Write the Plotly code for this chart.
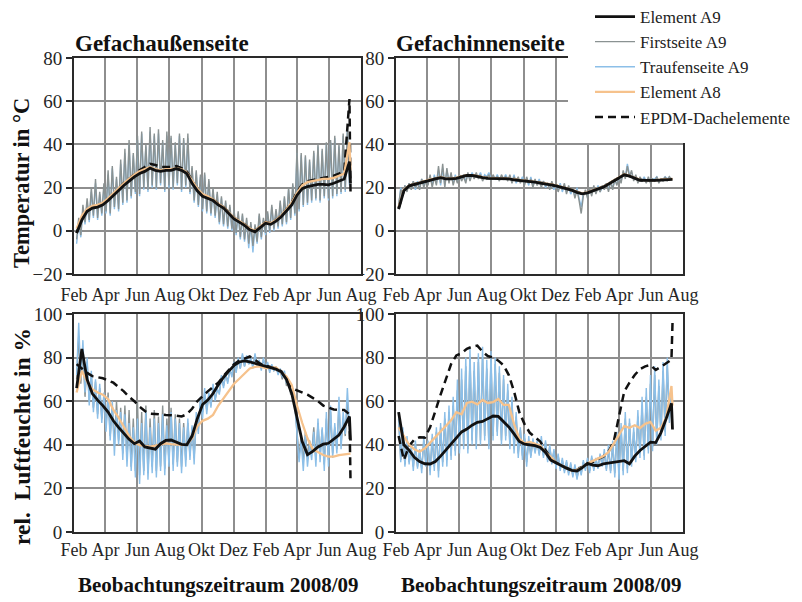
import plotly.graph_objects as go
import pandas as pd

# The page body adds an 8 px margin, so the figure is 8 px smaller than the window
# and every reference pixel position is shifted by OFF.
W, H = 794, 594
OFF = 8

# ---------------- x positions ----------------
smooth_dates = list(pd.date_range('2008-02-06', periods=53, freq='10D')) + [pd.Timestamp('2009-07-12')]
noise_dates = pd.date_range('2008-02-06', periods=131, freq='4D')

tick_vals = ['2008-02-01', '2008-04-01', '2008-06-01', '2008-08-01', '2008-10-01',
             '2008-12-01', '2009-02-01', '2009-04-01', '2009-06-01', '2009-08-01']
tick_text = ['Feb', 'Apr', 'Jun', 'Aug', 'Okt', 'Dez', 'Feb', 'Apr', 'Jun', 'Aug']

# ---------------- Temperatur, Gefachaußenseite ----------------
t_out_a9 = [-1, 5, 9, 10.5, 11, 12, 14, 16.5, 19, 21, 23, 25, 26.5, 27.5, 29, 28, 27.5, 28, 28, 28.8,
            28, 26.5, 22, 18.5, 16, 15, 14, 12, 10.5, 8, 5.5, 4, 2.5, 0.5, -0.5, 1.5, 3.5, 3, 4.5, 6.5,
            9.5, 12, 16.5, 19.5, 20.5, 21, 21.5, 21.5, 21.3, 22, 23, 24, 32, 22]
t_out_a8 = [1, 7, 10, 11.5, 12, 13, 15, 17.5, 20, 22, 24, 26, 27.5, 28.5, 29.5, 28.5, 28, 28.5, 28.5, 29,
            28.5, 27, 23, 19.5, 17, 16, 14.5, 12.5, 11, 8.5, 6, 4.5, 3, 1, 0, 2, 4, 3.5, 5, 7,
            10, 13, 17.5, 21, 22.5, 23, 23.5, 24, 24, 24.5, 25.5, 26.5, 41, 28]
t_out_epdm = [-1, 5.5, 9.5, 11, 11.5, 12.5, 14.5, 17, 19.5, 22, 24, 26, 28, 29.5, 31, 30.5, 29.5, 29.5, 29.5, 30,
              29, 27.5, 23, 19, 16.5, 15.5, 14.5, 12.5, 11, 8.5, 6, 4.5, 3, 1, 0, 2, 4, 3.5, 5, 7,
              10, 13, 18, 21.5, 23, 23.5, 24, 24.5, 25, 25.5, 26.5, 27.5, 61, 18]
t_out_first = [-4, 6, -2, 12, 4, 15,
               5, 20, 7, 24, 6, 18, 8, 22,
               9, 28, 8, 30, 11, 25, 10, 33,
               13, 38, 14, 42, 16, 36, 18,
               44, 17, 46, 20, 40, 19, 48, 21,
               45, 20, 47, 22, 42, 19, 46, 21,
               44, 20, 41, 22, 45, 19, 43,
               21, 45, 18, 30, 14, 28, 12, 26,
               10, 27, 9, 24, 8, 20, 7, 18,
               4, 16, 3, 14, 2, 12, 1,
               10, -1, 9, -3, 8, -4, 6, -6,
               4, -7, 3, -5, 8, -3, 6, -1,
               9, 0, 12, 1, 10, 2, 14,
               3, 16, 4, 20, 6, 22, 8,
               38, 10, 36, 12, 35, 13, 33, 14,
               37, 15, 40, 14, 38, 16, 41,
               15, 42, 16, 44, 17, 40, 18, 45,
               19, 46, 22]
t_out_trauf = [-6, 4, -3, 10, 3, 13,
               4, 18, 6, 22, 5, 17, 7, 20,
               8, 26, 7, 29, 10, 24, 9, 31,
               12, 36, 13, 40, 15, 35, 17,
               42, 16, 45, 19, 39, 18, 46, 20,
               44, 19, 45, 21, 41, 18, 44, 20,
               43, 19, 40, 21, 44, 18, 42,
               20, 43, 17, 29, 13, 27, 11, 25,
               9, 26, 8, 23, 7, 19, 6, 17,
               3, 15, 2, 13, 1, 11, 0,
               9, -2, 8, -4, 7, -5, 5, -8,
               3, -10, 2, -6, 7, -4, 5, -2,
               8, -1, 11, 0, 9, 1, 13,
               2, 15, 3, 19, 5, 21, 7,
               36, 9, 35, 11, 34, 12, 32, 13,
               36, 14, 39, 13, 37, 15, 40,
               14, 41, 15, 43, 16, 39, 17, 44,
               18, 47, 21]

# ---------------- Temperatur, Gefachinnenseite ----------------
t_in_a9 = [10, 18.5, 20.8, 21.5, 22, 22.8, 23.5, 24, 24.6, 24, 24, 24.3, 25, 25.6, 25.6, 25, 24.6, 24.3, 24.3, 24.3,
           24.3, 24, 23.6, 23.4, 23, 22.8, 22.5, 22.1, 21.8, 21.3, 20.8, 20.2, 19.5, 18.8, 17.8, 17.1, 17.6, 18.6, 19.4, 20.2,
           21.6, 23.3, 24.7, 25.9, 25.3, 24.2, 23.4, 23.3, 23.2, 23.3, 23.5, 23.6, 24, 23.8]
t_in_a8 = [11, 19, 21, 21.8, 22.3, 23, 23.8, 24.2, 24.8, 24.3, 24.2, 24.6, 25.2, 25.8, 25.8, 25.2, 24.8, 24.5, 24.5, 24.5,
           24.5, 24.2, 23.8, 23.6, 23.2, 23, 22.7, 22.3, 22, 21.5, 21, 20.4, 19.7, 19, 18, 17.3, 17.8, 18.8, 19.6, 20.4,
           21.8, 23.5, 25, 26.2, 25.5, 24.4, 23.6, 23.5, 23.4, 23.5, 23.7, 23.8, 24.2, 24]
t_in_epdm = [10.5, 18.7, 20.9, 21.6, 22.1, 22.9, 23.6, 24.1, 24.7, 24.1, 24.1, 24.4, 25.1, 25.7, 25.7, 25.1, 24.7, 24.4, 24.4, 24.4,
             24.4, 24.1, 23.7, 23.5, 23.1, 22.9, 22.6, 22.2, 21.9, 21.4, 20.9, 20.3, 19.6, 18.9, 17.9, 17.2, 17.7, 18.7, 19.5, 20.3,
             21.7, 23.4, 24.8, 26, 25.4, 24.3, 23.5, 23.4, 23.3, 23.4, 23.6, 23.7, 24.1, 23.8]
t_in_first = [12, 19, 17, 21, 18, 22,
              19, 23, 20, 22, 19, 24, 20, 23,
              21, 26, 20, 25, 21, 30, 22, 31,
              20, 29, 22, 27, 21, 25, 22,
              26, 23, 25, 22, 27, 23, 26, 24,
              27, 24, 26, 23, 25, 24, 26, 23,
              26, 24, 25, 23, 26, 24, 25,
              23, 26, 22, 25, 23, 25, 22, 24,
              21, 25, 22, 24, 20, 24, 21, 23,
              20, 23, 21, 22, 19, 23, 20,
              22, 18, 21, 19, 22, 17, 21, 18,
              20, 15, 19, 14, 8, 16, 19, 15,
              20, 16, 21, 17, 20, 18, 21,
              19, 22, 18, 23, 19, 24, 21,
              25, 22, 28, 24, 30, 25, 28, 23,
              26, 22, 25, 23, 24, 22, 25,
              22, 24, 23, 25, 22, 24, 23, 25,
              23, 25, 24]
t_in_trauf = [11, 20, 16, 21, 19, 22,
              20, 23, 19, 23, 20, 24, 21, 23,
              22, 25, 21, 26, 22, 28, 21, 29,
              21, 28, 23, 26, 22, 26, 23,
              25, 24, 26, 23, 26, 24, 27, 25,
              26, 25, 27, 24, 26, 25, 27, 24,
              25, 24, 26, 24, 25, 24, 26,
              24, 25, 23, 26, 22, 24, 23, 25,
              22, 24, 21, 25, 21, 23, 22, 24,
              21, 23, 20, 22, 20, 22, 19,
              21, 19, 22, 18, 21, 18, 20, 17,
              19, 16, 20, 15, 11, 17, 18, 16,
              19, 17, 20, 18, 21, 18, 20,
              20, 22, 19, 23, 20, 23, 22,
              24, 23, 27, 25, 31, 26, 27, 24,
              25, 23, 24, 23, 25, 23, 24,
              23, 24, 24, 25, 23, 24, 24, 25,
              24, 25, 24]

# ---------------- rel. Luftfeuchte, Gefachaußenseite ----------------
h_out_a9 = [66, 84, 70, 63.5, 60.5, 58, 55, 51, 48, 45, 42.5, 40.5, 41.7, 39, 38.5, 38, 40.5, 42, 42.2, 41.3,
            40.2, 40, 44, 52, 58.5, 60.5, 63.5, 67.5, 71, 73.8, 76.4, 78, 78.5, 78, 77.4, 76.8, 76, 75.5, 74.7, 73.5,
            70, 63.5, 52, 41.5, 35.5, 37, 39, 40.3, 40.7, 42.5, 44.5, 48.3, 53, 42]
h_out_a8 = [64, 74, 69, 65.5, 64, 63, 61, 56, 52.5, 48, 44, 41, 39.9, 39.5, 39.2, 39.6, 40, 40.7, 40.3, 40,
            40, 40, 43, 48.5, 51, 52, 53.7, 58, 61.5, 64.8, 68, 70.3, 72.8, 75, 75.7, 76, 75.2, 75.2, 75.5, 73.3,
            71.3, 67.5, 58, 50, 43, 38, 36.5, 35.3, 34.6, 34.6, 35.3, 35.6, 36, 36]
h_out_epdm = [77, 75, 73, 71.5, 71, 70.5, 69.5, 68.5, 66.5, 64.5, 62, 60, 57.5, 55.5, 54.3, 54, 53.7, 53.7, 53.6, 53.2,
              53, 54, 56.5, 60, 62.5, 64.5, 66.5, 68.5, 71.5, 74.3, 77, 78.6, 79.5, 80.5, 79, 77.2, 76.3, 75.8, 75, 73.8,
              70, 66, 65, 64, 63, 61.5, 60, 58, 57, 56.2, 56, 56, 54, 23]
h_out_first = [70, 90, 68, 84, 62, 78,
               60, 72, 57, 69, 54, 66, 52, 62,
               48, 64, 44, 58, 40, 60, 42, 57,
               36, 58, 33, 56, 30, 52, 28,
               60, 26, 55, 28, 58, 27, 52, 30,
               56, 28, 53, 30, 58, 29, 52, 32,
               57, 31, 54, 32, 52, 30, 50,
               33, 50, 35, 48, 34, 52, 47, 60,
               55, 64, 56, 63, 58, 66, 61, 65,
               64, 71, 67, 72, 69, 74, 72,
               77, 74, 79, 75, 81, 76, 80, 77,
               79, 76, 81, 76, 78, 75, 79, 76,
               77, 74, 76, 74, 75, 73, 74,
               70, 73, 67, 69, 63, 65, 57,
               47, 35, 44, 32, 46, 34, 42, 36,
               48, 33, 50, 35, 47, 31, 52,
               33, 55, 36, 48, 38, 58, 40, 52,
               44, 60, 46]
h_out_trauf = [72, 96, 70, 88, 64, 80,
               58, 74, 55, 70, 52, 68, 50, 64,
               46, 62, 42, 60, 35, 56, 40, 55,
               33, 54, 30, 50, 28, 48, 25,
               52, 22, 50, 26, 55, 24, 48, 27,
               52, 25, 50, 28, 54, 26, 49, 30,
               55, 28, 52, 30, 50, 27, 48,
               30, 52, 33, 49, 31, 55, 45, 62,
               52, 66, 54, 64, 57, 68, 60, 66,
               63, 72, 66, 73, 68, 75, 71,
               78, 73, 80, 75, 82, 76, 81, 77,
               80, 75, 82, 76, 79, 74, 80, 75,
               78, 73, 77, 74, 76, 72, 75,
               71, 74, 68, 70, 64, 66, 58,
               45, 32, 42, 28, 44, 30, 40, 33,
               46, 30, 52, 32, 48, 28, 55,
               30, 58, 34, 50, 36, 62, 38, 55,
               45, 66, 48]

# ---------------- rel. Luftfeuchte, Gefachinnenseite ----------------
h_in_a9 = [55, 40, 37.5, 34.3, 32.3, 31.3, 31.2, 32.3, 34.8, 37.5, 40.3, 43, 45.9, 47.2, 49, 50.3, 50.7, 52, 53.2, 53,
           50.8, 48.2, 45, 41.5, 40.3, 40, 39.6, 38.8, 36.5, 33, 31.7, 30.5, 29.3, 28.3, 28, 29.5, 31.5, 30.7, 30.4, 31.2,
           31.6, 32, 32.4, 32.7, 31.3, 34.8, 37.4, 39.5, 41.2, 41, 45.6, 52, 59, 47]
h_in_a8 = [48, 44, 40, 38, 36.8, 38.4, 41, 43.5, 46.5, 49.1, 51.2, 55, 54, 59.2, 59.8, 58.5, 60.6, 59.2, 59.6, 61,
           58.3, 58.3, 49.5, 42.8, 40.7, 41.3, 40.6, 39.6, 36.5, 34.5, 31.8, 30.5, 29.2, 28.2, 28.5, 29.7, 31.5, 32.6, 33.5, 34.8,
           36.6, 40.7, 44.7, 48.6, 47.8, 49, 47.7, 49.6, 50.5, 46.5, 47.8, 52.5, 67, 58]
h_in_epdm = [44, 33, 39.5, 42.5, 43.5, 43.3, 48, 56, 63, 70, 77, 81, 82, 84, 85, 85.5, 82.7, 80.7, 80, 78.6,
             76.5, 72, 64.5, 55, 49.5, 45.5, 43.5, 41.5, 37.5, 34, 31.8, 30.5, 29.2, 28.2, 28.5, 30, 31, 32, 33.5, 34.6,
             36.8, 41.5, 53, 64.5, 68.5, 72, 74.7, 76, 76.6, 74.3, 75.8, 77.6, 79, 96]
h_in_first = [52, 33, 46, 31, 42, 32,
              38, 30, 40, 30, 37, 29, 42, 31,
              40, 28, 43, 30, 46, 28, 48, 32,
              52, 33, 55, 35, 58, 37, 65,
              38, 70, 40, 76, 38, 80, 42, 74,
              40, 78, 42, 80, 44, 75, 40, 79,
              44, 77, 46, 73, 42, 70, 44,
              65, 40, 60, 38, 53, 36, 47, 35,
              43, 32, 42, 35, 42, 37, 41, 36,
              42, 35, 41, 33, 39, 32, 37,
              30, 35, 29, 33, 28, 32, 27, 31,
              26, 30, 25, 29, 27, 32, 29, 33,
              28, 34, 29, 33, 30, 35, 31,
              36, 29, 38, 28, 40, 27, 44,
              27, 47, 28, 52, 29, 50, 32, 46,
              34, 53, 36, 58, 35, 62, 38,
              68, 39, 72, 42, 67, 44, 74, 46,
              76, 52, 62]
h_in_trauf = [55, 32, 48, 30, 44, 31,
              40, 28, 42, 29, 38, 27, 44, 30,
              42, 26, 45, 28, 48, 25, 50, 30,
              55, 30, 58, 33, 62, 35, 70,
              36, 75, 38, 80, 36, 84, 40, 78,
              38, 82, 40, 85, 42, 79, 38, 83,
              42, 80, 44, 76, 40, 72, 42,
              68, 38, 62, 36, 55, 34, 48, 33,
              45, 30, 44, 34, 43, 36, 42, 35,
              44, 34, 42, 32, 40, 31, 38,
              29, 36, 28, 34, 27, 33, 26, 32,
              25, 31, 24, 30, 26, 33, 28, 34,
              27, 35, 28, 34, 29, 36, 30,
              38, 28, 40, 27, 42, 25, 46,
              24, 50, 26, 55, 27, 52, 30, 48,
              32, 56, 34, 62, 33, 66, 36,
              72, 37, 76, 40, 70, 42, 78, 44,
              80, 50, 65]

# ---------------- styling ----------------
FONT = 'Liberation Serif, Times New Roman, serif'
C_A9 = '#111111'
C_FIRST = '#8a9292'
C_TRAUF = '#8cbfe8'
C_A8 = '#f6c28c'
C_EPDM = '#111111'

NAMES = {'a9': 'Element A9', 'first': 'Firstseite A9', 'trauf': 'Traufenseite A9',
         'a8': 'Element A8', 'epdm': 'EPDM-Dachelemente'}
RANK = {'a9': 1, 'first': 2, 'trauf': 3, 'a8': 4, 'epdm': 5}


def X(p):
    return (p - OFF) / W


def Y(p):
    return 1 - (p - OFF) / H


fig = go.Figure()

panels = [
    ('x', 'y', dict(a9=t_out_a9, a8=t_out_a8, epdm=t_out_epdm, first=t_out_first, trauf=t_out_trauf), 'top', True),
    ('x2', 'y2', dict(a9=t_in_a9, a8=t_in_a8, epdm=t_in_epdm, first=t_in_first, trauf=t_in_trauf), 'top', False),
    ('x3', 'y3', dict(a9=h_out_a9, a8=h_out_a8, epdm=h_out_epdm, first=h_out_first, trauf=h_out_trauf), 'bottom', False),
    ('x4', 'y4', dict(a9=h_in_a9, a8=h_in_a8, epdm=h_in_epdm, first=h_in_first, trauf=h_in_trauf), 'bottom', False),
]


def add(key, xa, ya, x, y, line, legend):
    fig.add_trace(go.Scatter(x=x, y=y, mode='lines', name=NAMES[key], line=line,
                             xaxis=xa, yaxis=ya, showlegend=legend, legendrank=RANK[key],
                             hoverinfo='skip'))


for xa, ya, d, row, leg in panels:
    noisy_order = ['trauf', 'first'] if row == 'top' else ['first', 'trauf']
    for key in noisy_order:
        col = C_TRAUF if key == 'trauf' else C_FIRST
        add(key, xa, ya, noise_dates, d[key], dict(color=col, width=1.4), leg)
    add('epdm', xa, ya, smooth_dates, d['epdm'], dict(color=C_EPDM, width=2.5, dash='8px,5px'), leg)
    add('a8', xa, ya, smooth_dates, d['a8'], dict(color=C_A8, width=2.3), leg)
    add('a9', xa, ya, smooth_dates, d['a9'], dict(color=C_A9, width=2.8), leg)

# ---------------- axes ----------------
XL = [X(74), X(361)]
XR = [X(396), X(683)]
YT = [Y(274), Y(58)]
YB = [Y(532), Y(314)]

GRID = '#8e8e8e'
LINE = '#2a2a2a'

xbase = dict(type='date', range=['2008-02-01', '2009-08-01'], tickmode='array', tickvals=tick_vals,
             ticktext=tick_text, showgrid=True, gridcolor=GRID, gridwidth=1.6, showline=True, mirror=True,
             linecolor=LINE, linewidth=2, ticks='', zeroline=False, automargin=False,
             tickfont=dict(family=FONT, size=18, color='#262626'))
ybase = dict(showgrid=True, gridcolor=GRID, gridwidth=1.6, showline=True, mirror=True, linecolor=LINE,
             linewidth=2, ticks='outside', ticklen=6, tickwidth=2, tickcolor=LINE, zeroline=False,
             automargin=False, dtick=20, tickfont=dict(family=FONT, size=19, color='#262626'))

fig.update_layout(
    xaxis=dict(xbase, domain=XL, anchor='y', ticklabelstandoff=3),
    yaxis=dict(ybase, domain=YT, anchor='x', range=[-20, 80], tick0=-20),
    xaxis2=dict(xbase, domain=XR, anchor='y2', ticklabelstandoff=3),
    yaxis2=dict(ybase, domain=YT, anchor='x2', range=[-20, 80], tick0=-20),
    xaxis3=dict(xbase, domain=XL, anchor='y3'),
    yaxis3=dict(ybase, domain=YB, anchor='x3', range=[0, 100], tick0=0),
    xaxis4=dict(xbase, domain=XR, anchor='y4'),
    yaxis4=dict(ybase, domain=YB, anchor='x4', range=[0, 100], tick0=0),
)

# white box behind legend (covers upper right of right top panel)
fig.add_shape(type='rect', xref='paper', yref='paper', x0=X(568), x1=1.0, y0=Y(143), y1=1.0,
              fillcolor='white', line=dict(width=0), layer='above')

ann = []


def text(s, x, y, size, xanchor='center', angle=0):
    ann.append(dict(text=s, x=X(x), y=Y(y), xref='paper', yref='paper', showarrow=False,
                    xanchor=xanchor, yanchor='middle', textangle=angle,
                    font=dict(family=FONT, size=size, color='#111111')))


text('<b>Gefachaußenseite</b>', 73, 43, 23, xanchor='left')
text('<b>Gefachinnenseite</b>', 394, 43, 23, xanchor='left')
text('<b>Temperatur in °C</b>', 22, 183, 22.5, angle=-90)
text('<b>rel.\u00a0\u00a0Luftfeuchte in %</b>', 22, 437, 23.5, angle=-90)
text('<b>Beobachtungszeitraum 2008/09</b>', 218, 585, 21)
text('<b>Beobachtungszeitraum 2008/09</b>', 541, 585, 21)

fig.update_layout(
    width=W, height=H, margin=dict(l=0, r=0, t=0, b=0, autoexpand=False),
    paper_bgcolor='white', plot_bgcolor='white',
    font=dict(family=FONT, size=17, color='#111111'),
    annotations=ann,
    showlegend=True,
    legend=dict(x=X(590), y=Y(-1), xanchor='left', yanchor='top', bgcolor='rgba(255,255,255,0)',
                borderwidth=0, itemwidth=40, traceorder='normal',
                font=dict(family=FONT, size=17, color='#222222')),
)

fig.write_html('out.html')
